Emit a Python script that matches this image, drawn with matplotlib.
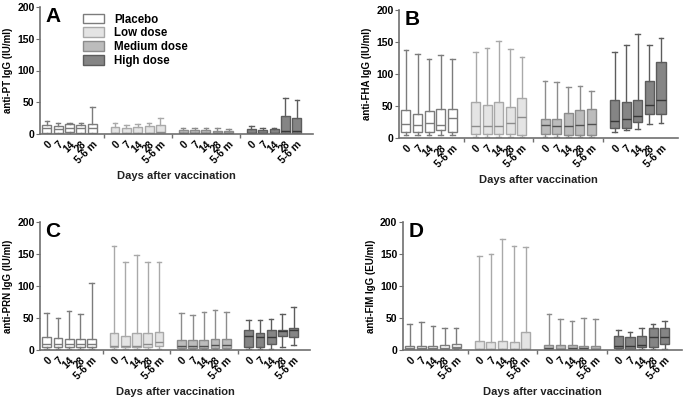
import matplotlib
matplotlib.use('Agg')
import matplotlib.pyplot as plt
from matplotlib.patches import Patch

plt.rcParams['font.family'] = ['Liberation Sans', 'DejaVu Sans']
plt.rcParams['font.weight'] = 'bold'

groups = ['Placebo', 'Low dose', 'Medium dose', 'High dose']
days = ['0', '7', '14', '28', '5-6 m']

# anti-PT (IU/ml), 4 groups x 5 time points
pt_lo = [0.5, 0.5, 0.5, 0.5, 0.5,  0.5, 0.5, 0.5, 0.5, 0.5,  0.5, 0.5, 0.5, 0.5, 0.5,  0.3, 0.3, 0.3, 0.5, 0.5]
pt_q1 = [2, 2, 3, 2, 2,  1, 1, 1, 1, 1,  1, 1, 1, 1, 1,  0.5, 0.5, 0.5, 1, 1]
pt_med = [9, 8, 10, 9.5, 10,  2, 2, 1.5, 2, 2.5,  2, 2, 2, 2, 2,  1, 1, 1, 5, 4]
pt_q3 = [14, 12.6, 15, 13.6, 15,  10.5, 9, 10.5, 12.6, 14,  6.3, 5.8, 6, 5.2, 5,  8, 6, 8, 28, 25]
pt_hi = [20, 17, 18, 18, 42,  17, 14, 15, 17, 25,  10, 9, 10, 9, 8.4,  13, 10, 10, 56, 53]

# anti-FHA (IU/ml)
fha_lo = [4, 4, 4, 4, 4,  2, 2, 2, 2, 2,  2, 2, 2, 2, 2,  10, 12, 14, 22, 24]
fha_q1 = [10, 10, 10, 12, 10,  7, 6, 7, 7, 5,  7, 6, 5, 5, 5,  16, 15, 25, 37, 38]
fha_med = [22, 21, 23.5, 21, 31,  19, 18, 19, 23.5, 33,  20, 19, 19, 21, 22,  27, 30, 35, 51, 60]
fha_q3 = [44, 38, 42, 45, 45,  56, 52, 57, 49, 62,  30, 29, 39, 44, 45,  60, 56, 59, 89, 118]
fha_hi = [138, 132, 124, 129, 124,  135, 141, 152, 139, 127,  89, 88, 79, 81, 73,  134, 145, 162, 146, 156]

# anti-PRN (IU/ml)
prn_lo = [1.5, 1.5, 1.5, 1.5, 1.5,  1.5, 1.5, 1.5, 1.5, 1.5,  1, 1, 1, 1, 1,  1.5, 1.5, 1.5, 4, 8]
prn_q1 = [5, 5, 5, 5, 5,  4, 4, 4, 5, 7,  3, 3, 3, 3.5, 3.5,  5, 5, 9, 22, 20]
prn_med = [9.4, 9, 9, 9, 9,  7, 7, 7, 9.4, 12.5,  6, 6, 6, 8, 8,  22, 20, 20, 29, 31]
prn_q3 = [20, 18, 17, 16.6, 16.6,  26, 22, 26.5, 26, 28.6,  15.6, 15, 16, 16.6, 16.6,  30.6, 27, 30.6, 32, 35]
prn_hi = [58, 50, 61, 57, 105,  163, 137, 148, 138, 137,  58, 54, 59, 63, 60,  47, 47, 49, 57, 66.5]

# anti-FIM (EU/ml)
fim_lo = [1, 1, 1, 1, 1,  0.5, 0.5, 0.5, 0.5, 0.5,  1, 1, 1, 1, 1,  1, 1, 1, 1.5, 1]
fim_q1 = [2, 2, 2, 2, 2.6,  1, 1, 1, 1, 1,  1.5, 1.5, 1.5, 1.5, 1.5,  2.6, 2, 4, 5.2, 9]
fim_med = [3.6, 3, 3, 3, 4.7,  1.5, 1.5, 1.5, 1.5, 2,  2.6, 2, 2.6, 2.6, 2,  6, 5.7, 7.3, 20, 21]
fim_q3 = [6.8, 6, 6, 7.3, 9.4,  14, 13, 13.5, 12, 28.6,  7.3, 7.3, 7.3, 6.8, 6.8,  22, 20, 22, 35, 34]
fim_hi = [40, 44, 37, 35, 34,  147.5, 149.6, 173, 162.6, 161.6,  55.6, 49, 46, 50, 49,  32, 28, 34, 41, 44.7]

face_colors = ['white', '#e4e4e4', '#bcbcbc', '#858585']
edge_colors = ['#7c7c7c', '#a9a9a9', '#8c8c8c', '#5c5c5c']
median_colors = ['#7c7c7c', '#8c8c8c', '#505050', '#383838']

fig = plt.figure(figsize=(6.85, 4.0), dpi=100)

panels = [
    ('A', 'anti-PT IgG (IU/ml)', [0.0584, 0.665, 0.399, 0.3175], pt_lo, pt_q1, pt_med, pt_q3, pt_hi, 176),
    ('B', 'anti-FHA IgG (IU/ml)', [0.5825, 0.655, 0.407, 0.32], fha_lo, fha_q1, fha_med, fha_q3, fha_hi, 180),
    ('C', 'anti-PRN IgG (IU/ml)', [0.0584, 0.125, 0.394, 0.32], prn_lo, prn_q1, prn_med, prn_q3, prn_hi, 392),
    ('D', 'anti-FIM IgG (EU/ml)', [0.588, 0.125, 0.407, 0.32], fim_lo, fim_q1, fim_med, fim_q3, fim_hi, 392),
]

positions = [g * 6 + j for g in range(len(groups)) for j in range(len(days))]

for letter, ylabel, rect, lo, q1, med, q3, hi, xlab_y in panels:
    ax = fig.add_axes(rect)
    for g in range(len(groups)):
        stats = []
        for j in range(len(days)):
            k = g * len(days) + j
            stats.append(dict(whislo=lo[k], q1=q1[k], med=med[k], q3=q3[k], whishi=hi[k]))
        ax.bxp(stats, positions=positions[g * 5:(g + 1) * 5], widths=0.78,
               patch_artist=True, showfliers=False, manage_ticks=False,
               boxprops=dict(facecolor=face_colors[g], edgecolor=edge_colors[g], linewidth=1),
               whiskerprops=dict(color=edge_colors[g], linewidth=1),
               capprops=dict(color=edge_colors[g], linewidth=1),
               capwidths=0.4,
               medianprops=dict(color=median_colors[g], linewidth=1))

    ax.set_xlim(-0.6, 23.45)
    ax.set_ylim(0, 200)
    ax.set_yticks([0, 50, 100, 150, 200])
    ax.set_xticks(positions)
    ax.set_xticklabels(days * len(groups), rotation=45, ha='right',
                       rotation_mode='anchor', fontsize=7.5, fontweight='bold')
    ax.set_xticks([5, 11, 17], minor=True)
    ax.tick_params(axis='x', which='major', length=0, pad=4)
    ax.tick_params(axis='x', which='minor', length=3, color='#707070', width=1)
    ax.tick_params(axis='y', length=3, color='#707070', labelsize=7.5, pad=1)
    for lab in ax.get_yticklabels():
        lab.set_fontweight('bold')
    ax.set_ylabel(ylabel, fontsize=7, fontweight='bold', labelpad=3)
    for s in ['top', 'right']:
        ax.spines[s].set_visible(False)
    for s in ['left', 'bottom']:
        ax.spines[s].set_color('#707070')
        ax.spines[s].set_linewidth(1.2)
    ax.text(0.02, 1.0, letter, transform=ax.transAxes, fontsize=15,
            fontweight='bold', va='top', ha='left')

    xc = (rect[0] + rect[2] / 2)
    fig.text(xc, 1 - xlab_y / 400, 'Days after vaccination', ha='center',
             va='center', fontsize=8, fontweight='bold', color='#222222')

    if letter == 'A':
        handles = [Patch(facecolor=face_colors[g], edgecolor=edge_colors[g], linewidth=1)
                   for g in range(len(groups))]
        ax.legend(handles, groups, loc='upper left', bbox_to_anchor=(0.14, 0.985),
                  frameon=False, fontsize=8.3, handlelength=1.8, handleheight=0.9,
                  labelspacing=0.15, handletextpad=0.9, borderaxespad=0)

fig.savefig('out.png', dpi=100)
